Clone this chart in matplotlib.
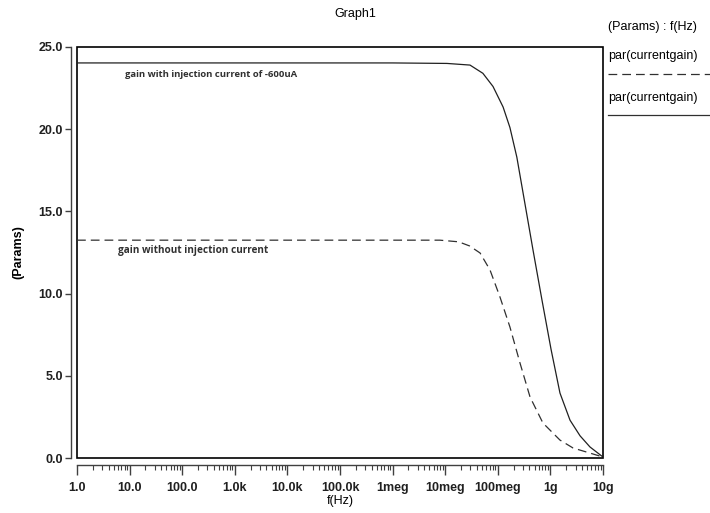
import matplotlib
matplotlib.use('Agg')

import matplotlib.pyplot as plt
import numpy as np
from matplotlib.patches import Rectangle

plt.rcParams['font.family'] = ['Liberation Sans', 'DejaVu Sans']

# frequency sweep (Hz) and current gain for the two cases
freq_with = [1.0, 1e3, 1e6, 1.08e7, 2.96e7, 5.2e7, 8.1e7, 1.26e8, 1.7e8, 2.3e8,
             4.67e8, 6.92e8, 1.03e9, 1.52e9, 2.36e9, 3.66e9, 5.66e9, 1e10]
gain_with = [24.03, 24.03, 24.03, 24.0, 23.9, 23.4, 22.6, 21.35, 20.1, 18.3,
             12.65, 9.6, 6.6, 3.95, 2.3, 1.35, 0.67, 0.06]

freq_without = [1.0, 1e3, 1e6, 7.9e6, 1.8e7, 2.9e7, 4.6e7, 7.1e7, 1.1e8, 1.7e8,
                2.64e8, 4.1e8, 7.2e8, 1.52e9, 2.69e9, 1e10]
gain_without = [13.25, 13.25, 13.25, 13.25, 13.15, 12.9, 12.47, 11.44, 9.79, 7.97,
                5.78, 3.71, 2.13, 1.09, 0.61, 0.06]

xtick_vals = [1, 10, 100, 1e3, 1e4, 1e5, 1e6, 1e7, 1e8, 1e9, 1e10]
xtick_labels = ['1.0', '10.0', '100.0', '1.0k', '10.0k', '100.0k',
                '1meg', '10meg', '100meg', '1g', '10g']
ytick_vals = [0, 5, 10, 15, 20, 25]
ytick_labels = ['0.0', '5.0', '10.0', '15.0', '20.0', '25.0']

fig = plt.figure(figsize=(7.1, 5.13), dpi=100)
ax = fig.add_axes([0.1085, 0.1072, 0.7408, 0.8012])

ax.plot(freq_with, gain_with, color='#202020', linewidth=0.9)
ax.plot(freq_without, gain_without, color='#303030', linewidth=0.9,
        linestyle=(0, (7, 4)))

ax.set_xscale('log')
ax.set_xlim(1, 1e10)
ax.set_ylim(0, 25)

ax.set_xticks(xtick_vals)
ax.set_xticklabels(xtick_labels)
ax.set_yticks(ytick_vals)
ax.set_yticklabels(ytick_labels)
ax.xaxis.set_minor_locator(matplotlib.ticker.LogLocator(base=10, subs=np.arange(2, 10), numticks=100))
ax.xaxis.set_minor_formatter(matplotlib.ticker.NullFormatter())

# axis lines sit a little away from the plot frame
ax.spines['left'].set_position(('outward', 4))
ax.spines['bottom'].set_position(('outward', 5))
for s in ['left', 'bottom']:
    ax.spines[s].set_color('#404040')
    ax.spines[s].set_linewidth(1)
ax.spines['top'].set_visible(False)
ax.spines['right'].set_visible(False)
ax.add_patch(Rectangle((0, 0), 1, 1, transform=ax.transAxes, fill=False,
                       edgecolor='black', linewidth=1.2, clip_on=False))

ax.tick_params(axis='x', which='major', direction='out', length=7, width=1,
               color='#404040', labelsize=9, pad=5)
ax.tick_params(axis='x', which='minor', direction='out', length=3.5, width=0.8,
               color='#404040')
ax.tick_params(axis='y', direction='out', length=4, width=1, color='#404040',
               labelsize=9, pad=2)
for lab in ax.get_xticklabels() + ax.get_yticklabels():
    lab.set_fontweight('bold')
    lab.set_color('#202020')

ax.set_xlabel('f(Hz)', fontsize=9, labelpad=1)
ax.set_ylabel('(Params)', fontsize=9, fontweight='bold', labelpad=10)
fig.text(0.5, 0.972, 'Graph1', ha='center', va='center', fontsize=9)

# curve annotations
ax.text(8.2, 23.2, 'gain with injection current of -600uA', fontsize=6.8,
        fontweight='bold', family=['Open Sans', 'DejaVu Sans'], color='#303030')
ax.text(6.0, 12.45, 'gain without injection current', fontsize=7.2,
        fontweight='bold', family=['Open Sans', 'DejaVu Sans'], color='#303030')

# legend block on the right
fig.text(0.857, 0.947, '(Params) : f(Hz)', fontsize=9, va='center')
fig.text(0.857, 0.891, 'par(currentgain)', fontsize=9, va='center')
fig.add_artist(plt.Line2D([0.857, 1.0], [0.856, 0.856], color='#303030',
                          linewidth=0.9, linestyle=(0, (7, 4))))
fig.text(0.857, 0.809, 'par(currentgain)', fontsize=9, va='center')
fig.add_artist(plt.Line2D([0.857, 1.0], [0.776, 0.776], color='#303030',
                          linewidth=0.9))

fig.savefig('out.png', dpi=100)
